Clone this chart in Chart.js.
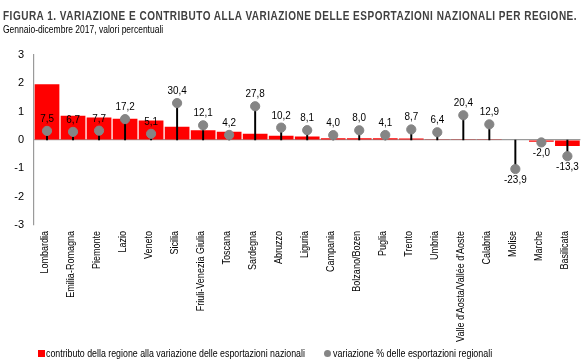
<!DOCTYPE html>
<html>
<head>
<meta charset="utf-8">
<script src="https://cdn.jsdelivr.net/npm/chart.js@4"></script>
<style>
  body { margin: 0; background: #fff; }
  #wrap { position: relative; width: 586px; height: 364px; font-family: "Liberation Sans", Arial, sans-serif; overflow: hidden; }
  #box { position: absolute; left: 0; top: 0; width: 586px; height: 364px; }
  .fit { position: absolute; white-space: nowrap; transform-origin: 0 0; }
  #title { left: 3px; top: 9px; font-size: 12px; font-weight: bold; color: #404040; letter-spacing: 0.6px; }
  #subtitle { left: 3px; top: 23px; font-size: 11px; color: #000; }
  #leg1 { left: 46px; top: 347px; font-size: 11px; color: #000; }
  #leg2 { left: 333px; top: 347px; font-size: 11px; color: #000; }
  .mark { position: absolute; }
  #m1 { left: 38px; top: 350px; width: 7px; height: 7px; background: #ff0000; }
  #m2 { left: 324px; top: 350px; width: 7px; height: 7px; border-radius: 50%; background: #858585; }
</style>
</head>
<body>
<div id="wrap">
  <div id="box"><canvas id="regioniChart"></canvas></div>
  <div id="title" class="fit">FIGURA 1. VARIAZIONE E CONTRIBUTO ALLA VARIAZIONE DELLE ESPORTAZIONI NAZIONALI PER REGIONE.</div>
  <div id="subtitle" class="fit">Gennaio-dicembre 2017, valori percentuali</div>
  <div id="m1" class="mark"></div>
  <div id="leg1" class="fit">contributo della regione alla variazione delle esportazioni nazionali</div>
  <div id="m2" class="mark"></div>
  <div id="leg2" class="fit">variazione % delle esportazioni regionali</div>
</div>
<script>
  var regioni = [
    "Lombardia", "Emilia-Romagna", "Piemonte", "Lazio", "Veneto", "Sicilia",
    "Friuli-Venezia Giulia", "Toscana", "Sardegna", "Abruzzo", "Liguria",
    "Campania", "Bolzano/Bozen", "Puglia", "Trento", "Umbria",
    "Valle d'Aosta/Vallée d'Aoste", "Calabria", "Molise", "Marche", "Basilicata"
  ];
  // contributo alla variazione nazionale (punti percentuali)
  var contributo = [
    1.97, 0.86, 0.79, 0.75, 0.69, 0.47, 0.34, 0.29, 0.22, 0.15, 0.12,
    0.06, 0.06, 0.06, 0.05, 0.03, 0.005, 0.005, -0.02, -0.06, -0.21
  ];
  // variazione % delle esportazioni regionali
  var variazione = [
    7.5, 6.7, 7.7, 17.2, 5.1, 30.4, 12.1, 4.2, 27.8, 10.2, 8.1,
    4.0, 8.0, 4.1, 8.7, 6.4, 20.4, 12.9, -23.9, -2.0, -13.3
  ];
  var yTicks = [-3, -2, -1, 0, 1, 2, 3];

  var fontName = '"Liberation Sans", Arial, sans-serif';

  // stringe i testi html alla larghezza del riferimento
  function fitText(id, width) {
    var el = document.getElementById(id);
    el.style.transform = "scaleX(" + width / el.offsetWidth + ")";
  }
  fitText("title", 574);
  fitText("subtitle", 160);
  fitText("leg1", 259);
  fitText("leg2", 159);

  // nomi delle regioni, ruotati e un po' stretti
  var regionLabels = {
    id: "regionLabels",
    afterDraw: function (chart) {
      var xs = chart.scales.x;
      var ctx = chart.ctx;
      ctx.save();
      ctx.font = "11px " + fontName;
      ctx.fillStyle = "#000";
      ctx.textAlign = "right";
      ctx.textBaseline = "middle";
      regioni.forEach(function (name, i) {
        ctx.save();
        ctx.translate(xs.getPixelForTick(i) - 2, xs.top + 6);
        ctx.rotate(-Math.PI / 2);
        ctx.scale(0.82, 1);
        ctx.fillText(name, 0, 0);
        ctx.restore();
      });
      ctx.restore();
    },
  };

  // etichette sopra/sotto i pallini
  var valueLabels = {
    id: "valueLabels",
    afterDatasetsDraw: function (chart) {
      var meta = chart.getDatasetMeta(2);
      var ctx = chart.ctx;
      ctx.save();
      ctx.font = "11px " + fontName;
      ctx.fillStyle = "#000";
      ctx.textAlign = "center";
      ctx.textBaseline = "middle";
      meta.data.forEach(function (pt, i) {
        var v = variazione[i];
        var txt = v.toFixed(1).replace(".", ",");
        var y = v >= 0 ? pt.y - 12 : pt.y + 11;
        ctx.save();
        ctx.translate(pt.x, y);
        ctx.scale(0.9, 1);
        ctx.fillText(txt, 0, 0);
        ctx.restore();
      });
      ctx.restore();
    },
  };

  var chartDiv = document.getElementById("regioniChart");
  new Chart(chartDiv, {
    data: {
      labels: regioni,
      datasets: [
        {
          type: "bar",
          label: "contributo",
          data: contributo,
          backgroundColor: "#ff0000",
          categoryPercentage: 1,
          barPercentage: 0.95,
          grouped: false,
          order: 3,
        },
        {
          type: "bar",
          label: "linee",
          data: variazione,
          yAxisID: "y2",
          backgroundColor: "#000",
          barThickness: 1.3,
          grouped: false,
          order: 2,
        },
        {
          type: "line",
          label: "variazione",
          data: variazione,
          yAxisID: "y2",
          showLine: false,
          pointRadius: 4.6,
          pointHoverRadius: 4.6,
          pointBackgroundColor: "#858585",
          pointBorderColor: "#858585",
          pointStyle: "circle",
          order: 1,
        },
      ],
    },
    options: {
      responsive: true,
      maintainAspectRatio: false,
      animation: false,
      layout: { padding: { top: 55, right: 5, left: 0, bottom: 20 } },
      plugins: {
        tooltip: { enabled: false },
        legend: { display: false },
      },
      scales: {
        x: {
          grid: { display: false },
          border: { display: false },
          ticks: { display: false },
          afterFit: function (scale) {
            scale.height = 119;
          },
        },
        y: {
          min: -3,
          max: 3,
          afterBuildTicks: function (axis) {
            axis.ticks = yTicks.map(function (v) {
              return { value: v };
            });
          },
          afterFit: function (scale) {
            scale.width = 34;
          },
          grid: {
            drawTicks: false,
            color: function (c) {
              return c.tick && c.tick.value === 0 ? "#9a9a9a" : "rgba(0,0,0,0)";
            },
            lineWidth: 1.2,
          },
          border: { display: true, color: "#9a9a9a", width: 1.2 },
          ticks: {
            padding: 10,
            color: "#000",
            font: { family: fontName, size: 11 },
          },
        },
        y2: {
          display: false,
          min: -70,
          max: 70,
        },
      },
    },
    plugins: [valueLabels, regionLabels],
  });
</script>
</body>
</html>
